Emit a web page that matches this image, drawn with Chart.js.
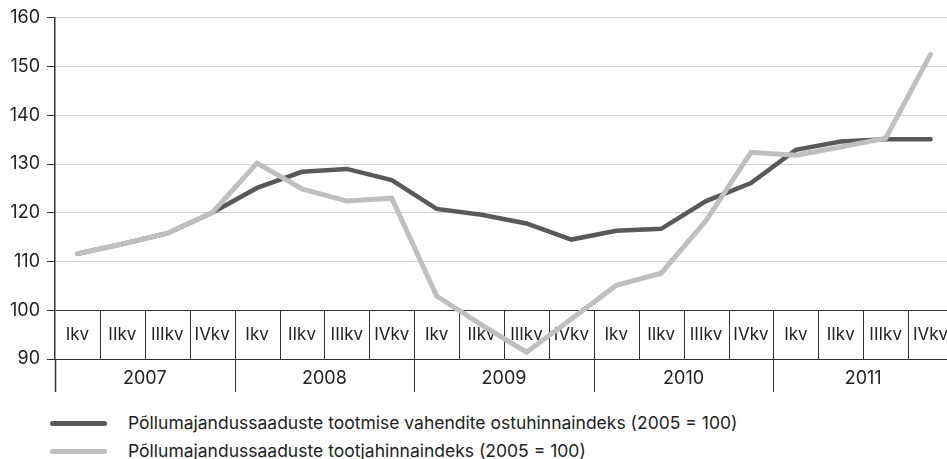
<!DOCTYPE html>
<html>
<head>
<meta charset="utf-8">
<script src="https://cdn.jsdelivr.net/npm/chart.js@4/dist/chart.umd.min.js"></script>
<style>
  html, body { margin: 0; padding: 0; background: #fff; overflow: hidden; width: 947px; height: 459px; }
  #wrap { position: absolute; left: 0; top: 0; width: 953px; height: 400px; }
  #legend { position: absolute; left: 0; top: 410px; font-family: Inter, sans-serif; font-size: 17.5px; color: #222; }
  .item { position: relative; height: 28px; }
  .swatch { position: absolute; left: 50px; width: 57px; height: 5px; border-radius: 3px; top: 11px; }
  .txt { position: absolute; left: 128px; top: 0; white-space: nowrap; line-height: 26px; }
</style>
</head>
<body>
<div id="wrap"><canvas id="c"></canvas></div>
<div id="legend"></div>
<script>
const quarterNames = ['Ikv', 'IIkv', 'IIIkv', 'IVkv'];
const years = ['2007', '2008', '2009', '2010', '2011'];
const categories = years.flatMap(y => quarterNames.map(q => q + ' ' + y));
const inputPriceIndex = [111.6, 113.6, 115.8, 120.0, 125.1, 128.4, 129.0, 126.7, 120.8, 119.6, 117.8, 114.5, 116.3, 116.7, 122.4, 126.1, 132.9, 134.6, 135.1, 135.1];
const producerPriceIndex = [111.6, 113.6, 115.8, 120.0, 130.2, 124.9, 122.4, 123.0, 102.9, 97.0, 91.4, 98.2, 105.1, 107.6, 118.4, 132.4, 131.8, 133.5, 135.3, 152.5];
const seriesLabels = [
  'Põllumajandussaaduste tootmise vahendite ostuhinnaindeks (2005 = 100)',
  'Põllumajandussaaduste tootjahinnaindeks (2005 = 100)'
];
const yTicks = [90, 100, 110, 120, 130, 140, 150, 160];

const DARK = '#595959';
const LIGHT = '#bfbfbf';
const LINE = '#333333';
const FONT = 'Inter, sans-serif';

const tablePlugin = {
  id: 'quarterTable',
  beforeDatasetsDraw(chart) {
    const { ctx, scales: { x, y } } = chart;
    const n = categories.length;
    const cell = (x.getPixelForValue(1) - x.getPixelForValue(0));
    const y100 = y.getPixelForValue(100);
    const y90 = y.getPixelForValue(90);
    const yBottom = y90 + 33;
    ctx.save();
    ctx.strokeStyle = LINE;
    ctx.lineWidth = 1;
    for (let i = 1; i < n; i++) {
      const bx = Math.round(x.getPixelForValue(i) - cell / 2) + 0.5;
      ctx.beginPath();
      ctx.moveTo(bx, y100);
      ctx.lineTo(bx, (i % 4 === 0) ? yBottom : y90);
      ctx.stroke();
    }
    const lx = Math.round(chart.chartArea.left) + 0.5;
    ctx.lineWidth = 1.5;
    ctx.beginPath();
    ctx.moveTo(lx, y90);
    ctx.lineTo(lx, yBottom);
    ctx.stroke();
    ctx.fillStyle = '#222';
    ctx.font = '17px ' + FONT;
    ctx.textAlign = 'center';
    ctx.textBaseline = 'middle';
    const yq = y.getPixelForValue(95);
    for (let i = 0; i < n; i++) {
      ctx.fillText(quarterNames[i % 4], x.getPixelForValue(i), yq);
    }
    ctx.font = '18px ' + FONT;
    for (let k = 0; k < years.length; k++) {
      const cx = (x.getPixelForValue(k * 4) + x.getPixelForValue(k * 4 + 3)) / 2;
      ctx.fillText(years[k], cx, y90 + 20);
    }
    ctx.restore();
  }
};

new Chart(document.getElementById('c'), {
  type: 'line',
  data: {
    labels: categories,
    datasets: [
      { label: seriesLabels[0], data: inputPriceIndex, borderColor: DARK, borderWidth: 4.5, order: 1 },
      { label: seriesLabels[1], data: producerPriceIndex, borderColor: LIGHT, borderWidth: 5, order: 0 }
    ]
  },
  options: {
    responsive: true,
    maintainAspectRatio: false,
    animation: false,
    layout: { padding: { top: 17, bottom: 41, left: 0, right: 0 } },
    elements: {
      line: { tension: 0, borderCapStyle: 'round', borderJoinStyle: 'miter', fill: false },
      point: { radius: 0 }
    },
    plugins: { legend: { display: false }, tooltip: { enabled: false } },
    scales: {
      x: { type: 'category', offset: true, display: false },
      y: {
        min: 90, max: 160,
        afterFit(s) { s.width = 55; },
        afterBuildTicks(s) { s.ticks = yTicks.map(v => ({ value: v })); },
        border: { display: true, color: LINE, width: 1.5 },
        grid: {
          color: c => (c.tick && c.tick.value <= 100) ? LINE : '#d0d0d0',
          tickColor: LINE,
          tickLength: 8,
          lineWidth: 1
        },
        ticks: { padding: 7, color: '#222', font: { family: FONT, size: 18 } }
      }
    }
  },
  plugins: [tablePlugin]
});

const legend = document.getElementById('legend');
[[seriesLabels[0], DARK], [seriesLabels[1], LIGHT]].forEach(([t, col]) => {
  const it = document.createElement('div');
  it.className = 'item';
  const sw = document.createElement('div');
  sw.className = 'swatch';
  sw.style.background = col;
  const tx = document.createElement('div');
  tx.className = 'txt';
  tx.textContent = t;
  it.appendChild(sw); it.appendChild(tx);
  legend.appendChild(it);
});
</script>
</body>
</html>
